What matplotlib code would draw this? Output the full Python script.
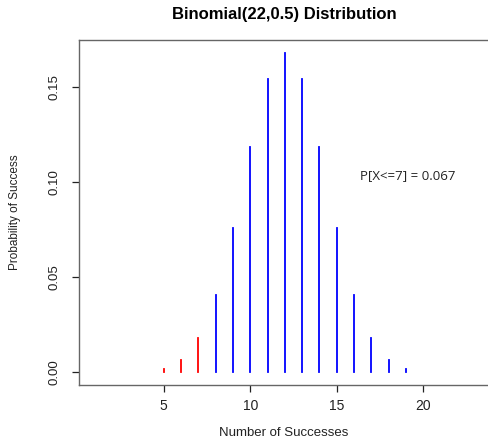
import matplotlib
matplotlib.use('Agg')
import matplotlib.pyplot as plt

# number of successes (1..23) and probabilities
successes = list(range(1, 24))
probs = [0.0000, 0.0000, 0.0000, 0.0004, 0.0017, 0.0063, 0.0178, 0.0407,
         0.0762, 0.1186, 0.1542, 0.1682, 0.1542, 0.1186, 0.0762, 0.0407,
         0.0178, 0.0063, 0.0017, 0.0004, 0.0000, 0.0000, 0.0000]
cutoff = 7
x_ticks = [5, 10, 15, 20]
y_ticks = [0.00, 0.05, 0.10, 0.15]

plt.rcParams['font.family'] = ['Liberation Sans', 'DejaVu Sans']

fig = plt.figure(figsize=(4.88, 4.38), dpi=100)
ax = fig.add_axes([0.1619, 0.121, 0.8436, 0.7877])

colors = ['#ff0000' if k <= cutoff else '#0000ff' for k in successes]
stems = ax.vlines([k for k, p in zip(successes, probs) if p > 0],
                  0, [p for p in probs if p > 0],
                  colors=[c for c, p in zip(colors, probs) if p > 0], linewidth=1.3)
stems.set_capstyle('projecting')

ax.set_xlim(0.12, 23.88)
ax.set_ylim(-0.0067, 0.1749)
ax.set_xticks(x_ticks)
ax.set_yticks(y_ticks)
ax.set_yticklabels(['%.2f' % v for v in y_ticks], rotation=90, va='center')
ax.tick_params(length=5, width=0.9, colors='#222222')
ax.tick_params(axis='x', labelsize=10, pad=5)
ax.tick_params(axis='y', labelsize=9.5, pad=8.5)
for s in ax.spines.values():
    s.set_color('#666666')
    s.set_linewidth(1.0)

fig.text(284 / 488, 1 - 433 / 438, 'Number of Successes', fontsize=9.5,
         ha='center', va='center', color='#222222')
fig.text(15 / 488, 1 - 212 / 438, 'Probability of Success', fontsize=8.5,
         rotation=90, ha='center', va='center', color='#222222')
fig.text(284 / 488, 1 - 14 / 438, 'Binomial(22,0.5) Distribution', fontsize=12,
         fontweight='bold', ha='center', va='center')

fig.text(408 / 488, 1 - 176 / 438, 'P[X<=7] = 0.067', fontsize=9.5,
         family=['Open Sans', 'DejaVu Sans'], ha='center', va='center', color='#222222')

plt.savefig('out.png', dpi=100)
plt.close()
